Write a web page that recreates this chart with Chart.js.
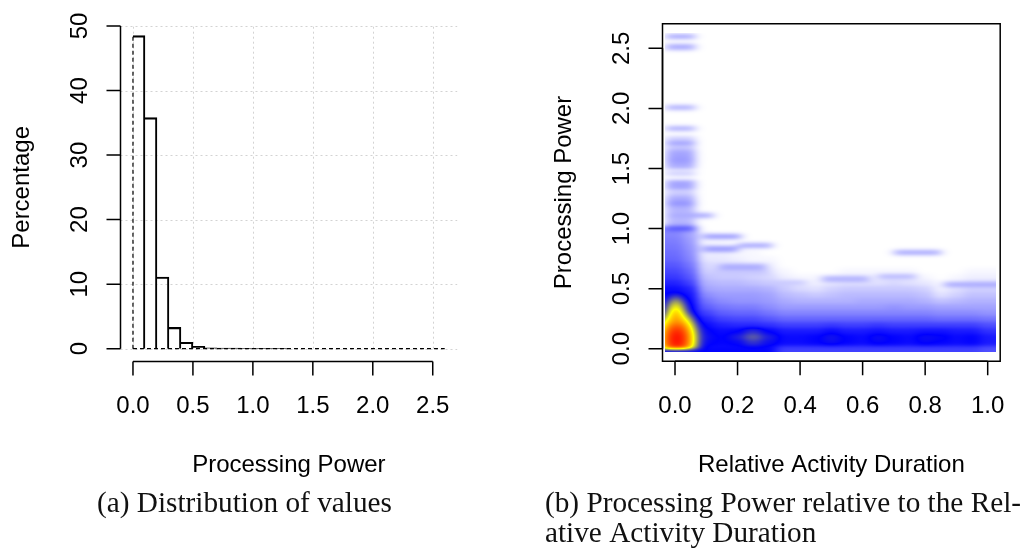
<!DOCTYPE html>
<html>
<head>
<meta charset="utf-8">
<script src="https://cdn.jsdelivr.net/npm/chart.js@4.4.0/dist/chart.umd.min.js"></script>
<style>
html,body{margin:0;padding:0;background:#fff;width:1030px;height:554px;overflow:hidden}
#wrapA{position:absolute;left:0;top:0;width:515px;height:554px}
#wrapB{position:absolute;left:515px;top:0;width:515px;height:554px}
canvas{display:block}
</style>
</head>
<body>
<div id="wrapA"><canvas id="histChart" width="515" height="554"></canvas></div>
<div id="wrapB"><canvas id="heatChart" width="515" height="554"></canvas></div>
<script>
// ================= DATA =================
// (a) histogram of Processing Power (percentage per 0.1 bin)
const histBinLeft  = [0.0, 0.1, 0.2, 0.3, 0.4, 0.5, 0.6, 0.7, 0.8, 0.9, 1.0, 1.1, 1.2];
const histBinWidth = 0.1;
const histPercent  = [48.5, 35.8, 11.1, 3.3, 1.0, 0.37, 0.15, 0.10, 0.08, 0.07, 0.06, 0.05, 0.05];
const histXMax = 2.6;
const histXTicks = [0, 0.5, 1.0, 1.5, 2.0, 2.5];
const histXTickLabels = ["0.0", "0.5", "1.0", "1.5", "2.0", "2.5"];
const histYTicks = [0, 10, 20, 30, 40, 50];
const histYTickLabels = ["0", "10", "20", "30", "40", "50"];

// (b) smoothed density of Processing Power vs Relative Activity Duration
const heatXTicks = [0, 0.2, 0.4, 0.6, 0.8, 1.0];
const heatXTickLabels = ["0.0", "0.2", "0.4", "0.6", "0.8", "1.0"];
const heatYTicks = [0, 0.5, 1.0, 1.5, 2.0, 2.5];
const heatYTickLabels = ["0.0", "0.5", "1.0", "1.5", "2.0", "2.5"];
const heatExtentX = [-0.032, 1.028];
const heatExtentY = [-0.025, 2.63];

// density grid: columns = Relative Activity Duration, rows = Processing Power
// level = position on the white-blue-yellow-red colour ramp (0..100)
const densityX = [0.00,0.05,0.10,0.15,0.20,0.25,0.30,0.35,0.40,0.45,0.50,0.55,0.60,0.65,0.70,0.75,0.80,0.85,0.90,0.95,1.00];
const densityY = [0.00,0.05,0.10,0.15,0.20,0.25,0.30,0.35,0.40,0.45,0.50,0.55,0.60,0.65,0.70,0.75,0.80,0.85,0.90,0.95,1.00];
const densityLevel = [
  [34,34,30,30,30,30,30,25,25,25,25,25,25,25,25,25,25,25,25,25,23],
  [34,36,34,33,34,40,35,32,32,33,35,33,32,34,33,32,34,33,32,33,30],
  [34,36,35,33,37,46,37,32,32,33,36,33,32,35,33,32,35,34,32,33,30],
  [34,35,34,32,33,39,33,30,30,30,32,30,30,31,30,30,31,31,30,30,27],
  [34,34,32,29,28,28,27,25,25,25,26,25,25,26,25,25,25,25,25,25,23],
  [34,34,29,25,24,24,22,20,20,20,20,20,20,20,20,20,20,19,19,19,18],
  [34,33,25,21,20,20,18,16,16,16,16,16,16,16,16,16,16,15,15,15,14],
  [34,33,21,18,17,17,15,13,13,13,13,13,13,13,14,13,13,12,12,12,12],
  [34,32,18,15,14,14,13,11,10,10,10,10,11,11,11,11,10, 8, 9,10,10],
  [33,31,15,13,13,13,12, 9, 8, 7, 8, 9, 9, 9, 9, 9, 8, 4, 6, 8, 8],
  [32,29,12,11,11,11,10, 7, 5, 4, 6, 7, 7, 7, 7, 7, 6, 2, 4, 6, 6],
  [29,25,10, 9, 9, 8, 7, 5, 2, 2, 3, 4, 4, 4, 5, 4, 3, 1, 2, 4, 4],
  [26,22, 8, 7, 7, 6, 5, 2, 1, 1, 1, 2, 2, 2, 2, 2, 1, 0, 1, 2, 2],
  [24,20, 6, 5, 5, 4, 3, 1, 0, 0, 0, 1, 1, 1, 1, 1, 0, 0, 0, 1, 1],
  [22,18, 5, 4, 4, 3, 2, 0, 0, 0, 0, 0, 0, 0, 0, 0, 0, 0, 0, 0, 0],
  [20,16, 3, 3, 2, 1, 1, 0, 0, 0, 0, 0, 0, 0, 0, 0, 0, 0, 0, 0, 0],
  [19,15, 2, 2, 1, 1, 0, 0, 0, 0, 0, 0, 0, 0, 0, 0, 0, 0, 0, 0, 0],
  [18,14, 2, 1, 1, 0, 0, 0, 0, 0, 0, 0, 0, 0, 0, 0, 0, 0, 0, 0, 0],
  [17,13, 1, 1, 0, 0, 0, 0, 0, 0, 0, 0, 0, 0, 0, 0, 0, 0, 0, 0, 0],
  [16,12, 1, 0, 0, 0, 0, 0, 0, 0, 0, 0, 0, 0, 0, 0, 0, 0, 0, 0, 0],
  [15,11, 0, 0, 0, 0, 0, 0, 0, 0, 0, 0, 0, 0, 0, 0, 0, 0, 0, 0, 0]
];

// thin horizontal clusters of observations (x from, x to, Processing Power, level)
const streakX0 = [-0.03,-0.03,-0.03,-0.03,-0.03,-0.03,-0.03,-0.03,-0.03,-0.03,-0.03,-0.03,-0.03,-0.03,-0.03,-0.03,-0.03,-0.03,-0.03,-0.03,-0.03,-0.03, 0.09, 0.09, 0.20, 0.14, 0.12, 0.30, 0.47, 0.65, 0.70, 0.86, -0.03];
const streakX1 = [ 0.065, 0.065, 0.065, 0.065, 0.065, 0.065, 0.065, 0.065, 0.065, 0.065, 0.065, 0.065, 0.065, 0.065, 0.065, 0.065, 0.12, 0.065, 0.065, 0.065, 0.065, 0.065, 0.21, 0.20, 0.31, 0.29, 0.30, 0.42, 0.62, 0.77, 0.85, 1.03, 0.32];
const streakY  = [ 2.60, 2.51, 2.01, 1.83, 1.75, 1.71, 1.66, 1.62, 1.57, 1.52, 1.46, 1.38, 1.34, 1.29, 1.25, 1.21, 1.11, 1.17, 1.14, 1.07, 1.04, 1.00, 0.935, 0.83, 0.86, 0.68, 0.635, 0.55, 0.58, 0.60, 0.80, 0.535, -0.01];
const streakLevel = [ 11, 11, 10, 10, 6, 12, 9, 12, 13, 11, 6, 12, 12, 7, 11, 14, 11, 10, 9, 9, 10, 22, 13, 13, 11, 11, 7, 7, 10, 9, 11, 11, 33];

// dense core near zero activity duration
const spotX = [0.006, 0.003];
const spotY = [0.08, 0.22];
const spotRX = [0.095, 0.052];
const spotRY = [0.34, 0.32];
const spotLevel = [100, 84];

// ================= HELPERS =================
const SANS = '"Liberation Sans", Arial, Helvetica, sans-serif';
const SERIF = '"Liberation Serif", "Times New Roman", serif';
const TICK_LEN = 14;

function drawRAxes(chart, o) {
  const {ctx, chartArea: ca} = chart;
  const xs = chart.scales.x, ys = chart.scales.y;
  ctx.save();
  ctx.strokeStyle = '#000';
  ctx.fillStyle = '#000';
  ctx.lineWidth = 1.5;
  ctx.setLineDash([]);
  ctx.beginPath();
  const xa = xs.getPixelForValue(o.xTicks[0]), xb = xs.getPixelForValue(o.xTicks[o.xTicks.length - 1]);
  ctx.moveTo(xa, ca.bottom); ctx.lineTo(xb, ca.bottom);
  o.xTicks.forEach(v => { const p = xs.getPixelForValue(v); ctx.moveTo(p, ca.bottom); ctx.lineTo(p, ca.bottom + TICK_LEN); });
  const ya = ys.getPixelForValue(o.yTicks[0]), yb = ys.getPixelForValue(o.yTicks[o.yTicks.length - 1]);
  ctx.moveTo(ca.left, ya); ctx.lineTo(ca.left, yb);
  o.yTicks.forEach(v => { const p = ys.getPixelForValue(v); ctx.moveTo(ca.left, p); ctx.lineTo(ca.left - TICK_LEN, p); });
  ctx.stroke();
  if (o.box) {
    ctx.beginPath();
    ctx.rect(ca.left, ca.top, ca.right - ca.left, ca.bottom - ca.top);
    ctx.stroke();
  }
  ctx.font = '24px ' + SANS;
  ctx.textAlign = 'center';
  ctx.textBaseline = 'alphabetic';
  o.xTicks.forEach((v, i) => ctx.fillText(o.xLabels[i], xs.getPixelForValue(v), ca.bottom + 51.5));
  o.yTicks.forEach((v, i) => {
    ctx.save();
    ctx.translate(ca.left - 34, ys.getPixelForValue(v));
    ctx.rotate(-Math.PI / 2);
    ctx.fillText(o.yLabels[i], 0, 0);
    ctx.restore();
  });
  ctx.fillText(o.xTitle, (ca.left + ca.right) / 2, ca.bottom + 110.5);
  ctx.save();
  ctx.translate(ca.left - 92, (ca.top + ca.bottom) / 2);
  ctx.rotate(-Math.PI / 2);
  ctx.fillText(o.yTitle, 0, 0);
  ctx.restore();
  ctx.restore();
}

function captionSize(ctx) {
  ctx.save();
  ctx.font = '100px ' + SERIF;
  const w = ctx.measureText('(b) Processing Power relative to the Rel-').width;
  ctx.restore();
  return 100 * 476 / w;
}

function drawCaption(chart, lines, x, y0, lh) {
  const ctx = chart.ctx;
  const size = captionSize(ctx);
  ctx.save();
  ctx.fillStyle = '#111';
  ctx.font = size.toFixed(2) + 'px ' + SERIF;
  ctx.textAlign = 'left';
  ctx.textBaseline = 'alphabetic';
  lines.forEach((t, i) => ctx.fillText(t, x, y0 + i * lh));
  ctx.restore();
}

// ================= (a) HISTOGRAM =================
const histAxes = {
  id: 'histAxes',
  beforeDatasetsDraw(chart) {
    const {ctx, chartArea: ca} = chart;
    const xs = chart.scales.x, ys = chart.scales.y;
    ctx.save();
    ctx.strokeStyle = '#d3d3d3';
    ctx.lineWidth = 1;
    ctx.setLineDash([2, 3]);
    ctx.beginPath();
    const yTop = ys.getPixelForValue(histYTicks[histYTicks.length - 1]);
    const yBot = ys.getPixelForValue(histYTicks[0]);
    histXTicks.forEach(v => { const p = Math.round(xs.getPixelForValue(v)) + 0.5; ctx.moveTo(p, yBot); ctx.lineTo(p, yTop); });
    histYTicks.forEach(v => { const p = Math.round(ys.getPixelForValue(v)) + 0.5; ctx.moveTo(ca.left, p); ctx.lineTo(ca.right, p); });
    ctx.stroke();
    ctx.restore();
  },
  afterDraw(chart) {
    drawRAxes(chart, {xTicks: histXTicks, xLabels: histXTickLabels, yTicks: histYTicks, yLabels: histYTickLabels,
      xTitle: 'Processing Power', yTitle: 'Percentage', box: false});
    drawCaption(chart, ['(a) Distribution of values'], 97, 512, 30);
  }
};

new Chart(document.getElementById('histChart'), {
  type: 'bar',
  data: {
    datasets: [
      {
        type: 'bar',
        data: histBinLeft.map((l, i) => ({x: l + histBinWidth / 2, y: histPercent[i]})),
        backgroundColor: 'rgba(0,0,0,0)',
        borderColor: '#000',
        borderWidth: {top: 1.4, right: 1.4, left: 0, bottom: 0},
        borderSkipped: false,
        barPercentage: 1,
        categoryPercentage: 1,
        grouped: false,
        order: 2
      },
      {
        type: 'line',
        data: [{x: histBinLeft[0], y: 0}, {x: histBinLeft[0], y: histPercent[0]}],
        borderColor: '#000', borderWidth: 1.2, borderDash: [4, 3],
        pointRadius: 0, fill: false, tension: 0, order: 1
      },
      {
        type: 'line',
        data: [{x: histBinLeft[0], y: 0}, {x: histXMax, y: 0}],
        borderColor: '#000', borderWidth: 1.2, borderDash: [4, 3],
        pointRadius: 0, fill: false, tension: 0, order: 1
      }
    ]
  },
  options: {
    responsive: false,
    animation: false,
    events: [],
    layout: {padding: {left: 120.5, right: 57.8, top: 13.1, bottom: 192.4}},
    plugins: {legend: {display: false}, tooltip: {enabled: false}, title: {display: false}},
    scales: {
      x: {type: 'linear', min: -0.104, max: 2.704, offset: false, display: false},
      y: {type: 'linear', min: -2, max: 52, display: false}
    }
  },
  plugins: [histAxes]
});

// ================= (b) DENSITY =================
function rampColor(t) {
  t = Math.max(0, Math.min(1, t));
  if (t < 1 / 3) { const s = t * 3; const c = 255 * (1 - s); return [c, c, 255]; }
  if (t < 2 / 3) { const s = t * 3 - 1; return [255 * s, 255 * s, 255 * (1 - s)]; }
  const s = t * 3 - 2; return [255, 255 * (1 - s), 0];
}

function gaussBlur(src, W, H, sx, sy) {
  function kernel(sig) {
    const r = Math.ceil(sig * 3), k = [];
    let s = 0;
    for (let i = -r; i <= r; i++) { const w = Math.exp(-i * i / (2 * sig * sig)); k.push(w); s += w; }
    return {r, k: k.map(w => w / s)};
  }
  const tmp = new Float32Array(W * H), out = new Float32Array(W * H);
  const kx = kernel(sx), ky = kernel(sy);
  for (let y = 0; y < H; y++) for (let x = 0; x < W; x++) {
    let a = 0;
    for (let i = -kx.r; i <= kx.r; i++) { const xx = Math.min(W - 1, Math.max(0, x + i)); a += kx.k[i + kx.r] * src[y * W + xx]; }
    tmp[y * W + x] = a;
  }
  for (let y = 0; y < H; y++) for (let x = 0; x < W; x++) {
    let a = 0;
    for (let i = -ky.r; i <= ky.r; i++) { const yy = Math.min(H - 1, Math.max(0, y + i)); a += ky.k[i + ky.r] * tmp[yy * W + x]; }
    out[y * W + x] = a;
  }
  return out;
}

const densityPlugin = {
  id: 'density',
  beforeDatasetsDraw(chart) {
    const ctx = chart.ctx, xs = chart.scales.x, ys = chart.scales.y;
    const L = Math.round(xs.getPixelForValue(heatExtentX[0]));
    const R = Math.round(xs.getPixelForValue(heatExtentX[1]));
    const T = Math.round(ys.getPixelForValue(heatExtentY[1]));
    const B = Math.round(ys.getPixelForValue(heatExtentY[0]));
    const M = 24, W = R - L + 2 * M, H = B - T + 2 * M;
    const buf = new Float32Array(W * H);
    const bx = v => xs.getPixelForValue(v) - L + M;
    const by = v => ys.getPixelForValue(v) - T + M;
    function fill(xa, xb, ya, yb, val, extL, extR, extB) {
      let x0 = extL ? 0 : Math.round(bx(xa)), x1 = extR ? W : Math.round(bx(xb));
      let y0 = Math.round(by(yb)), y1 = extB ? H : Math.round(by(ya));
      x0 = Math.max(0, x0); x1 = Math.min(W, x1); y0 = Math.max(0, y0); y1 = Math.min(H, y1);
      for (let y = y0; y < y1; y++) for (let x = x0; x < x1; x++) {
        const i = y * W + x; if (val > buf[i]) buf[i] = val;
      }
    }
    const hx = (densityX[1] - densityX[0]) / 2, hy = (densityY[1] - densityY[0]) / 2;
    densityLevel.forEach((row, r) => row.forEach((lv, c) => {
      fill(densityX[c] - hx, densityX[c] + hx, densityY[r] - hy, densityY[r] + hy, lv / 100,
        c === 0, c === densityX.length - 1, r === 0);
    }));
    const sh = 0.022;
    streakY.forEach((yv, i) => {
      fill(streakX0[i], streakX1[i], yv - sh, yv + sh, streakLevel[i] / 100,
        streakX0[i] <= heatExtentX[0], streakX1[i] >= heatExtentX[1], yv - sh <= heatExtentY[0]);
    });
    const yFloor = by(0.005);
    spotX.forEach((sxv, i) => {
      const cx = bx(sxv), cy = by(spotY[i]);
      const rx = Math.abs(bx(sxv + spotRX[i]) - cx), ry = Math.abs(by(spotY[i] + spotRY[i]) - cy);
      for (let y = Math.max(0, Math.floor(cy - ry)); y < Math.min(H, Math.ceil(cy + ry)); y++) {
        if (y > yFloor) continue;
        for (let x = Math.max(0, Math.floor(cx - rx)); x < Math.min(W, Math.ceil(cx + rx)); x++) {
          const dx = (x + 0.5 - cx) / rx, dy = (y + 0.5 - cy) / ry, d2 = dx * dx + dy * dy;
          if (d2 < 1) { const v = spotLevel[i] / 100 * (1 - d2); const k = y * W + x; if (v > buf[k]) buf[k] = v; }
        }
      }
    });
    const sm = gaussBlur(buf, W, H, 5, 2);
    const iw = R - L, ih = B - T;
    const img = ctx.createImageData(iw, ih);
    for (let y = 0; y < ih; y++) for (let x = 0; x < iw; x++) {
      const t = sm[(y + M) * W + (x + M)];
      const c = rampColor(t);
      const o = (y * iw + x) * 4;
      img.data[o] = c[0]; img.data[o + 1] = c[1]; img.data[o + 2] = c[2]; img.data[o + 3] = 255;
    }
    ctx.putImageData(img, L, T);
  },
  afterDraw(chart) {
    drawRAxes(chart, {xTicks: heatXTicks, xLabels: heatXTickLabels, yTicks: heatYTicks, yLabels: heatYTickLabels,
      xTitle: 'Relative Activity Duration', yTitle: 'Processing Power', box: true});
    drawCaption(chart, ['(b) Processing Power relative to the Rel-', 'ative Activity Duration'], 30, 512, 30);
  }
};

new Chart(document.getElementById('heatChart'), {
  type: 'scatter',
  data: {datasets: []},
  options: {
    responsive: false,
    animation: false,
    events: [],
    layout: {padding: {left: 147.5, right: 29.8, top: 23.8, bottom: 192.8}},
    plugins: {legend: {display: false}, tooltip: {enabled: false}},
    scales: {
      x: {type: 'linear', min: -0.04, max: 1.04, display: false},
      y: {type: 'linear', min: -0.104, max: 2.704, display: false}
    }
  },
  plugins: [densityPlugin]
});
</script>
</body>
</html>
